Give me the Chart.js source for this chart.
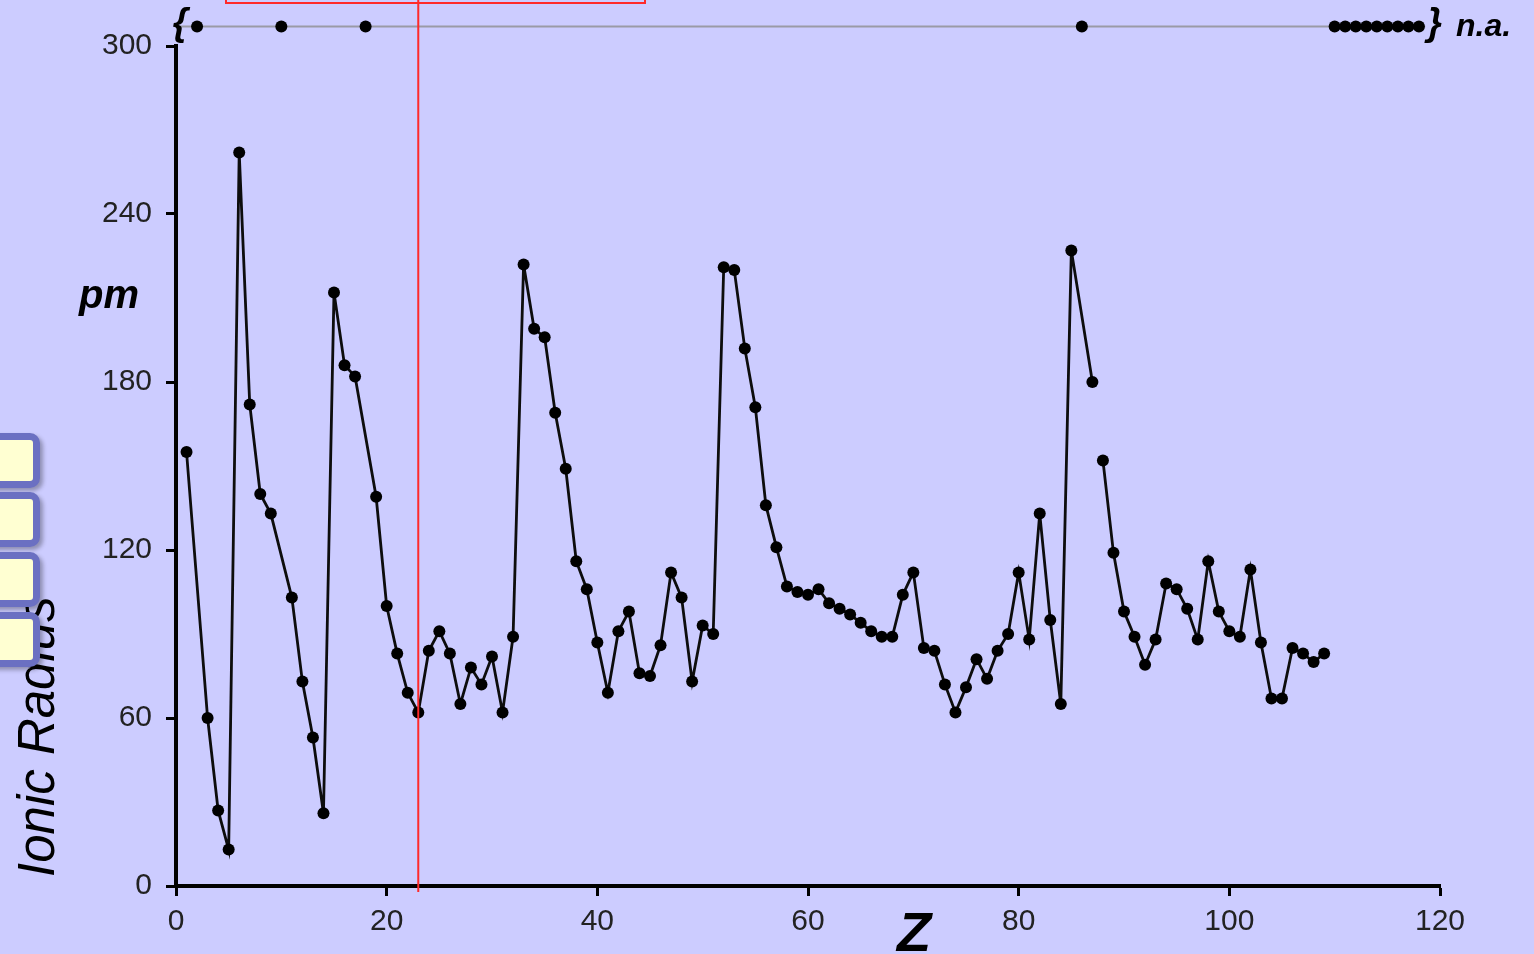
<!DOCTYPE html>
<html>
<head>
<meta charset="utf-8">
<title>Ionic Radius</title>
<script src="https://cdn.jsdelivr.net/npm/chart.js@4.4.1/dist/chart.umd.js"></script>
<style>
  html, body { margin: 0; padding: 0; background: #ccccff; overflow: hidden; }
  #wrap { position: relative; width: 1534px; height: 954px; }
  #chart { position: absolute; left: 0; top: 0; }
  .tab {
    position: absolute; left: -22px; width: 48px; height: 41px;
    background: #ffffd2; border: 7px solid #6b70c2; border-radius: 10px;
    box-shadow: 3px 3px 4px rgba(0, 0, 0, 0.3); z-index: 2;
  }
  #tip {
    position: absolute; left: 225px; top: -30px; width: 417px; height: 30px;
    border: 2px solid #ff2a2a; z-index: 2;
  }
</style>
</head>
<body>
<div id="wrap">
  <canvas id="chart" width="1534" height="954"></canvas>
  <div id="tip"></div>
  <div class="tab" style="top:433px"></div>
  <div class="tab" style="top:492px"></div>
  <div class="tab" style="top:552px"></div>
  <div class="tab" style="top:612px"></div>
</div>
<script>
// ionic radius in pm, index 0 = Z 1; null = not available
const radius = [
  155, null, 60, 27, 13, 262, 172, 140, 133, null,
  103, 73, 53, 26, 212, 186, 182, null, 139, 100,
  83, 69, 62, 84, 91, 83, 65, 78, 72, 82,
  62, 89, 222, 199, 196, 169, 149, 116, 106, 87,
  69, 91, 98, 76, 75, 86, 112, 103, 73, 93,
  90, 221, 220, 192, 171, 136, 121, 107, 105, 104,
  106, 101, 99, 97, 94, 91, 89, 89, 104, 112,
  85, 84, 72, 62, 71, 81, 74, 84, 90, 112,
  88, 133, 95, 65, 227, null, 180, 152, 119, 98,
  89, 79, 88, 108, 106, 99, 88, 116, 98, 91,
  89, 113, 87, 67, 67, 85, 83, 80, 83, null,
  null, null, null, null, null, null, null, null
]
const xTicks = [0, 20, 40, 60, 80, 100, 120]
const yTicks = [0, 60, 120, 180, 240, 300]
const breakAfter = [87]
const selectedZ = 23
const naLevel = 307

const lineColor = "#0d0d0d"
const font = "'Liberation Sans', Arial, sans-serif"

const points = radius
  .map((r, i) => ({ x: i + 1, y: r }))
  .filter((p) => p.y !== null)

const naPoints = radius
  .map((r, i) => ({ x: i + 1, y: naLevel, missing: r === null }))
  .filter((p) => p.missing)

const decorations = {
  id: "decorations",
  beforeDatasetsDraw(chart) {
    const { ctx, scales } = chart
    const y = scales.y.getPixelForValue(naLevel)
    ctx.save()
    ctx.strokeStyle = "#9a9aa6"
    ctx.lineWidth = 2
    ctx.beginPath()
    ctx.moveTo(scales.x.getPixelForValue(0.4), y)
    ctx.lineTo(scales.x.getPixelForValue(118.6), y)
    ctx.stroke()
    ctx.restore()
  },
  afterDatasetsDraw(chart) {
    const { ctx, scales } = chart

    // n.a. row sits above the plot area, so its points are drawn without the area check
    chart.getDatasetMeta(1).data.forEach((point) => point.draw(ctx))

    const x = scales.x.getPixelForValue(selectedZ)
    ctx.save()
    ctx.strokeStyle = "#ff2a2a"
    ctx.lineWidth = 2
    ctx.beginPath()
    ctx.moveTo(x, 0)
    ctx.lineTo(x, scales.y.getPixelForValue(0) + 6)
    ctx.stroke()

    const naY = scales.y.getPixelForValue(naLevel)
    ctx.fillStyle = "#000"
    ctx.textBaseline = "middle"
    ctx.font = "italic bold 38px " + font
    ctx.textAlign = "center"
    ctx.fillText("{", scales.x.getPixelForValue(0.4), naY - 2)
    ctx.fillText("}", scales.x.getPixelForValue(119.5), naY - 2)
    ctx.textAlign = "left"
    ctx.textBaseline = "alphabetic"
    ctx.font = "italic bold 32px " + font
    ctx.fillText("n.a.", 1456, naY + 10)

    ctx.font = "italic bold 40px " + font
    ctx.fillText("pm", 79, 308)

    ctx.font = "italic bold 56px " + font
    ctx.fillText("Z", 897, 951)

    ctx.translate(54, 877)
    ctx.rotate(-Math.PI / 2)
    ctx.font = "italic 51px " + font
    ctx.fillText("Ionic Radius", 0, 0)
    ctx.restore()
  }
}

new Chart(document.getElementById("chart"), {
  type: "scatter",
  data: {
    datasets: [
      {
        label: "Ionic radius",
        data: points,
        showLine: true,
        borderColor: lineColor,
        borderWidth: 2.8,
        backgroundColor: "#000",
        pointRadius: 6,
        pointBorderWidth: 0,
        segment: {
          borderColor: (ctx) => (breakAfter.includes(ctx.p0.parsed.x) ? "rgba(0,0,0,0)" : lineColor)
        }
      },
      {
        label: "n.a.",
        data: naPoints,
        showLine: false,
        backgroundColor: "#000",
        pointRadius: 6,
        pointBorderWidth: 0
      }
    ]
  },
  options: {
    responsive: false,
    animation: false,
    layout: { padding: { top: 46, right: 94, left: 0, bottom: 0 } },
    plugins: { legend: { display: false }, tooltip: { enabled: false } },
    scales: {
      x: {
        type: "linear",
        min: 0,
        max: 120,
        afterBuildTicks: (scale) => { scale.ticks = xTicks.map((v) => ({ value: v })) },
        afterFit: (scale) => { scale.height = 68 },
        border: { display: true, color: "#000", width: 4 },
        grid: { drawOnChartArea: false, tickLength: 10, tickWidth: 3, tickColor: "#000" },
        ticks: { color: "#222", padding: 8, font: { family: font, size: 30 } }
      },
      y: {
        type: "linear",
        min: 0,
        max: 300,
        afterBuildTicks: (scale) => { scale.ticks = yTicks.map((v) => ({ value: v })) },
        afterFit: (scale) => { scale.width = 176 },
        border: { display: true, color: "#000", width: 4 },
        grid: { drawOnChartArea: false, tickLength: 10, tickWidth: 3, tickColor: "#000" },
        ticks: { color: "#222", padding: 14, font: { family: font, size: 30 } }
      }
    }
  },
  plugins: [decorations]
})
</script>
</body>
</html>
